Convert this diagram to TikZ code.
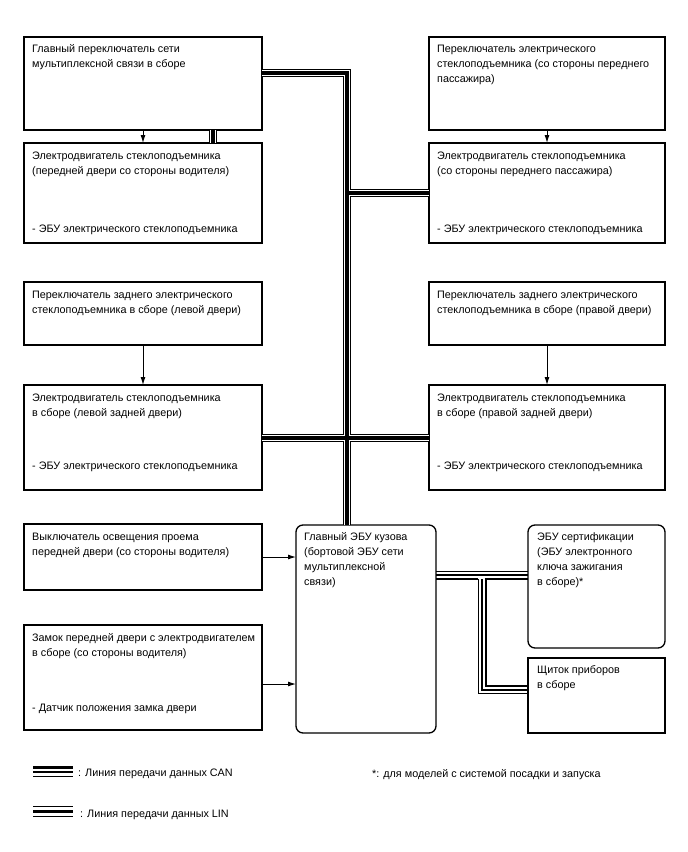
\documentclass[tikz,border=0pt]{standalone}
\usepackage{fontspec}
\setmainfont{Liberation Sans}
\usetikzlibrary{arrows.meta,calc}
\newcommand\fs{\fontsize{10.8}{15}\selectfont}
\newcommand\ts{\rule{0pt}{10pt}}
\begin{document}
\begin{tikzpicture}[x=1pt,y=-1pt,
  box/.style={draw, line width=1.3pt, anchor=north west, inner sep=0pt, outer sep=0pt},
  rbox/.style={box, rounded corners=7pt},
  txt/.style={anchor=north west, inner sep=0pt, align=left, font=\fs},
  arr/.style={line width=1pt, -{Latex[length=8pt,width=5pt]}},
  linA/.style={line width=8.5pt, draw=black, miter limit=10},
  linB/.style={line width=6pt, draw=white, miter limit=10},
  linC/.style={line width=3.5pt, draw=black, miter limit=10},
  canthin/.style={line width=1.2pt, draw=black},
  canthick/.style={line width=2.7pt, draw=black},
  lnthin/.style={line width=1.3pt, draw=black},
  lnthick/.style={line width=3.2pt, draw=black}]
\useasboundingbox[fill=white] (0,0) rectangle (688,852);

% boxes
\node[box, minimum width=238, minimum height=93]  (m1) at (24,37) {};
\node[box, minimum width=236, minimum height=93]  (m2) at (429,37) {};
\node[box, minimum width=238, minimum height=100] (m3) at (24,143) {};
\node[box, minimum width=236, minimum height=100] (m4) at (429,143) {};
\node[box, minimum width=238, minimum height=63]  (m5) at (24,282) {};
\node[box, minimum width=236, minimum height=63]  (m6) at (429,282) {};
\node[box, minimum width=238, minimum height=105] (m7) at (24,385) {};
\node[box, minimum width=236, minimum height=105] (m8) at (429,385) {};
\node[box, minimum width=238, minimum height=66]  (m9) at (24,524) {};
\node[box, minimum width=238, minimum height=105] (m10) at (24,625) {};
\node[rbox, minimum width=140, minimum height=208] (ecu) at (296,525) {};
\node[rbox, minimum width=137, minimum height=123] (cert) at (528,525) {};
\node[box, minimum width=137, minimum height=75]  (inst) at (528,658) {};

% texts
\node[txt] (t1) at (32,42) {\ts Главный переключатель сети\\мультиплексной связи в сборе};
\node[txt] (t2) at (437,42) {\ts Переключатель электрического\\стеклоподъемника (со стороны переднего\\пассажира)};
\node[txt] (t3) at (32,149) {\ts Электродвигатель стеклоподъемника\\(передней двери со стороны водителя)};
\node[txt] (t3b) at (32,222) {\ts - ЭБУ электрического стеклоподъемника};
\node[txt] (t4) at (437,149) {\ts Электродвигатель стеклоподъемника\\(со стороны переднего пассажира)};
\node[txt] (t4b) at (437,222) {\ts - ЭБУ электрического стеклоподъемника};
\node[txt] (t5) at (32,288) {\ts Переключатель заднего электрического\\стеклоподъемника в сборе (левой двери)};
\node[txt] (t6) at (437,288) {\ts Переключатель заднего электрического\\стеклоподъемника в сборе (правой двери)};
\node[txt] (t7) at (32,391) {\ts Электродвигатель стеклоподъемника\\в сборе (левой задней двери)};
\node[txt] (t7b) at (32,459) {\ts - ЭБУ электрического стеклоподъемника};
\node[txt] (t8) at (437,391) {\ts Электродвигатель стеклоподъемника\\в сборе (правой задней двери)};
\node[txt] (t8b) at (437,459) {\ts - ЭБУ электрического стеклоподъемника};
\node[txt] (t9) at (32,530) {\ts Выключатель освещения проема\\передней двери (со стороны водителя)};
\node[txt] (t10) at (32,631) {\ts Замок передней двери с электродвигателем\\в сборе (со стороны водителя)};
\node[txt] (t10b) at (32,701) {\ts - Датчик положения замка двери};
\node[txt] (t11) at (304,530) {\ts Главный ЭБУ кузова\\(бортовой ЭБУ сети\\мультиплексной\\связи)};
\node[txt] (t12) at (537,530) {\ts ЭБУ сертификации\\(ЭБУ электронного\\ключа зажигания\\в сборе)*};
\node[txt] (t13) at (537,663) {\ts Щиток приборов\\в сборе};

% arrows
\coordinate (ay) at (0,684);
\draw[arr] (m1.south) -- (m3.north);
\draw[arr] (m2.south) -- (m4.north);
\draw[arr] (m5.south) -- (m7.north);
\draw[arr] (m6.south) -- (m8.north);
\draw[arr] (m9.east) -- (m9.east -| ecu.west);
\draw[arr] (m10.east |- ay) -- (ecu.west |- ay);

% LIN bus
\coordinate (lx) at (213,0);
\coordinate (b1) at (347,73);
\coordinate (b2) at (347,193);
\coordinate (b3) at (347,438);
\foreach \s in {linA,linB,linC}{
  \draw[\s] (m1.south -| lx) -- (m3.north -| lx);
  \draw[\s] (m1.east |- b1) -- (b1) -- (ecu.north -| b1);
  \draw[\s] (b2) -- (m4.west |- b2);
  \draw[\s] (m7.east |- b3) -- (m8.west |- b3);
}

% CAN bus
\coordinate (cA) at (478.5,571.5);
\coordinate (cB) at (482,575);
\coordinate (cC) at (486,579);
\coordinate (dA) at (478.5,693.5);
\coordinate (dB) at (482,690);
\coordinate (dC) at (486,686);
\draw[canthin] (ecu.east |- cA) -- (cert.west |- cA);
\draw[canthin] (ecu.east |- cB) -- (cert.west |- cB);
\draw[canthick] (ecu.east |- cC) -- ([xshift=-0.5pt]cA |- cC);
\draw[canthick] ([xshift=-1.3pt]cC) -- (cert.west |- cC);
\draw[canthin] (cA |- cC) -- (dA) -- (inst.west |- dA);
\draw[canthin] (cB |- cC) -- (dB) -- (inst.west |- dB);
\draw[canthick] (cC) -- (dC) -- (inst.west |- dC);

% legend
\draw[canthick] (33,767.5) -- (73,767.5);
\draw[canthin] (33,772) -- (73,772);
\draw[canthin] (33,776.5) -- (73,776.5);
\node[txt] (lg1) at (78,766) {\ts : Линия передачи данных CAN};
\draw[lnthin] (33,806.5) -- (73,806.5);
\draw[lnthick] (33,811.5) -- (73,811.5);
\draw[lnthin] (33,816.5) -- (73,816.5);
\node[txt] (lg2) at (80,807) {\ts : Линия передачи данных LIN};
\node[txt] (note) at (372,767) {\ts *: для моделей с системой посадки и запуска};
\end{tikzpicture}
\end{document}
